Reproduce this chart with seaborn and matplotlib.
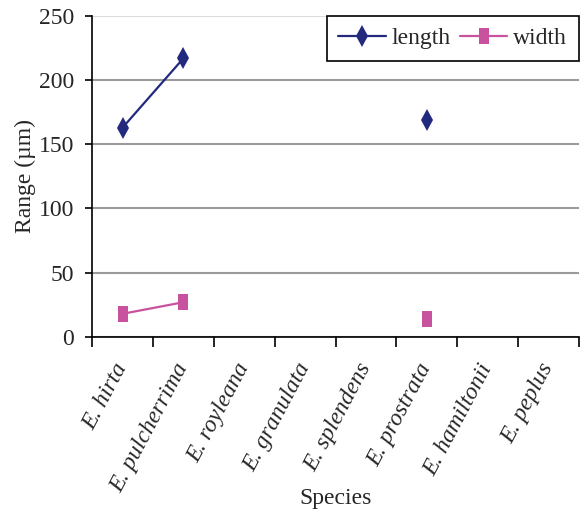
import numpy as np
import pandas as pd
import seaborn as sns
import matplotlib.pyplot as plt
from matplotlib.lines import Line2D

species = ['E. hirta', 'E. pulcherrima', 'E. royleana', 'E. granulata',
           'E. splendens', 'E. prostrata', 'E. hamiltonii', 'E. peplus']
length = [163, 217, np.nan, np.nan, np.nan, 169, np.nan, np.nan]
width = [18, 27, np.nan, np.nan, np.nan, 14, np.nan, np.nan]

colors = {'length': '#232a7e', 'width': '#c9529f'}
rect = [(-0.6, -1), (0.6, -1), (0.6, 1), (-0.6, 1), (-0.6, -1)]
markers = {'length': 'd', 'width': rect}
msize = {'length': 11, 'width': 11}


def to_long(name, values):
    """Long-form frame; a new segment starts after each gap so lines break at NaN."""
    df = pd.DataFrame({'pos': np.arange(len(species)), 'value': values})
    df['segment'] = df['value'].isna().cumsum()
    df['measure'] = name
    return df.dropna()


sns.set_style('white')
plt.rcParams['font.family'] = ['Liberation Serif', 'DejaVu Serif']

fig = plt.figure(figsize=(5.8, 5.12), dpi=100)
ax = fig.add_axes([0.159, 0.342, 0.839, 0.627])

for name, values in [('length', length), ('width', width)]:
    df = to_long(name, values)
    sns.lineplot(data=df, x='pos', y='value', units='segment', estimator=None,
                 color=colors[name], marker=markers[name], markersize=msize[name],
                 markeredgewidth=0, linewidth=1.6, ax=ax, legend=False)

ax.set_xlim(-0.5, len(species) - 0.5)
ax.set_ylim(0, 250)
ax.set_yticks(range(0, 251, 50))
ax.set_yticklabels([str(v) for v in range(0, 251, 50)])

# labels at category centres, tick marks at category boundaries
ax.set_xticks(np.arange(len(species)))
ax.set_xticklabels(species, rotation=62, ha='right', va='center',
                   rotation_mode='anchor', fontstyle='italic', fontsize=17)
ax.set_xticks(np.arange(len(species) + 1) - 0.5, minor=True)
ax.tick_params(axis='x', which='major', length=0, pad=20)
ax.tick_params(axis='x', which='minor', length=7, width=1.2, color='black',
               direction='out', bottom=True)
ax.tick_params(axis='y', which='major', length=5, width=1.2, color='black',
               direction='out', left=True, labelsize=17, pad=8)

ax.yaxis.grid(True, color='#9a9a9a', linewidth=1.5)
ax.get_ygridlines()[-1].set_color('#dcdcdc')
ax.set_axisbelow(True)

for side in ['top', 'right']:
    ax.spines[side].set_visible(False)
for side in ['left', 'bottom']:
    ax.spines[side].set_color('black')
    ax.spines[side].set_linewidth(1.2)

ax.set_xlabel('Species', fontsize=17, labelpad=-6)
ax.set_ylabel('Range (\u00b5m)', fontsize=17, labelpad=2)

handles = [Line2D([], [], color=colors[n], marker=markers[n], markersize=msize[n],
                  markeredgewidth=0, linewidth=1.6) for n in ['length', 'width']]
leg = ax.legend(handles, ['length', 'width'], ncol=2, loc='upper right',
                bbox_to_anchor=(1.0, 1.0), borderaxespad=0, fontsize=17,
                frameon=True, fancybox=False, framealpha=1, handlelength=2.0,
                handletextpad=0.25, columnspacing=0.4, borderpad=0.5)
leg.get_frame().set_edgecolor('black')
leg.get_frame().set_linewidth(1.2)

fig.savefig('out.png', dpi=100)
